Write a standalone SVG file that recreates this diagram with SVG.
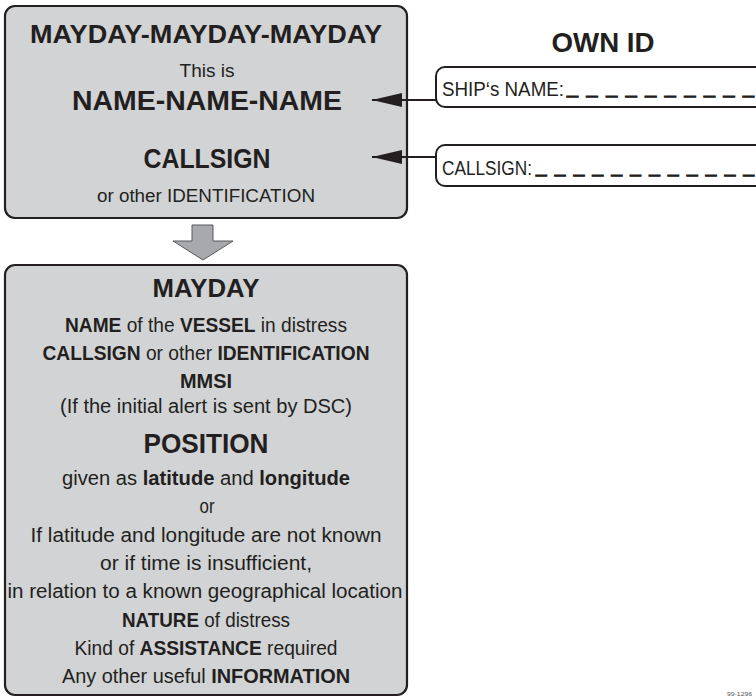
<svg xmlns="http://www.w3.org/2000/svg" width="756" height="697" viewBox="0 0 756 697">
<defs>
<style>
.box{fill:#d1d3d4;stroke:#231f20;stroke-width:2.2}
.idbox{fill:#ffffff;stroke:#231f20;stroke-width:2}
text{font-family:"Liberation Sans",Arial,sans-serif;fill:#231f20}
.c{text-anchor:middle}
.b{font-weight:bold}
.t18{font-size:18.5px}
.t20{font-size:20px}
.t26{font-size:26px;font-weight:bold}
.t28{font-size:28px;font-weight:bold}
.dash{font-size:18px;stroke:#231f20;stroke-width:1.1;word-spacing:3px}
.conn{stroke:#231f20;stroke-width:2;fill:none}
</style>
<marker id="ah" markerUnits="userSpaceOnUse" markerWidth="30" markerHeight="14" refX="30" refY="7" orient="auto">
<path d="M0,0 L30,7 L0,14 z" fill="#231f20"/>
</marker>
</defs>

<g id="call-box">
<rect class="box" x="5" y="6" width="402" height="212" rx="10"/>
<text class="c t26" x="206" y="43" textLength="352" lengthAdjust="spacingAndGlyphs">MAYDAY-MAYDAY-MAYDAY</text>
<text class="c t18" x="207" y="77" textLength="55" lengthAdjust="spacingAndGlyphs">This is</text>
<text class="c t28" x="207" y="110" textLength="270" lengthAdjust="spacingAndGlyphs">NAME-NAME-NAME</text>
<text class="c t28" x="207" y="168" textLength="127" lengthAdjust="spacingAndGlyphs">CALLSIGN</text>
<text class="c t18" x="206" y="202" textLength="218" lengthAdjust="spacingAndGlyphs">or other IDENTIFICATION</text>
</g>

<g id="own-id">
<text class="c t28" x="603" y="52" textLength="103" lengthAdjust="spacingAndGlyphs">OWN ID</text>
</g>

<g id="ship-name">
<rect class="idbox" x="436" y="67" width="340" height="40" rx="9"/>
<text class="t20" x="442" y="96"><tspan textLength="122" lengthAdjust="spacingAndGlyphs">SHIP‘s NAME:</tspan><tspan class="dash" x="567" y="93" textLength="187" lengthAdjust="spacingAndGlyphs">_ _ _ _ _ _ _ _ _ _</tspan></text>
</g>

<g id="callsign-field">
<rect class="idbox" x="436" y="145" width="340" height="41" rx="9"/>
<text class="t20" x="442" y="175"><tspan textLength="90" lengthAdjust="spacingAndGlyphs">CALLSIGN:</tspan><tspan class="dash" x="536" y="172" textLength="218" lengthAdjust="spacingAndGlyphs">_ _ _ _ _ _ _ _ _ _ _ _</tspan></text>
</g>

<g id="message-box">
<rect class="box" x="5" y="265" width="402" height="430" rx="10"/>
<text class="c t26" x="206" y="297" textLength="107" lengthAdjust="spacingAndGlyphs">MAYDAY</text>
<text class="c t20" x="206" y="332" textLength="282" lengthAdjust="spacingAndGlyphs"><tspan class="b">NAME</tspan> of the <tspan class="b">VESSEL</tspan> in distress</text>
<text class="c t20" x="206" y="360" textLength="327" lengthAdjust="spacingAndGlyphs"><tspan class="b">CALLSIGN</tspan> or other <tspan class="b">IDENTIFICATION</tspan></text>
<text class="c t20 b" x="206" y="388" textLength="52" lengthAdjust="spacingAndGlyphs">MMSI</text>
<text class="c t20" x="206" y="413" textLength="292" lengthAdjust="spacingAndGlyphs">(If the initial alert is sent by DSC)</text>
<text class="c t28" x="206" y="453" textLength="125" lengthAdjust="spacingAndGlyphs">POSITION</text>
<text class="c t20" x="206" y="485" textLength="288" lengthAdjust="spacingAndGlyphs">given as <tspan class="b">latitude</tspan> and <tspan class="b">longitude</tspan></text>
<text class="c t20" x="207" y="513" textLength="15" lengthAdjust="spacingAndGlyphs">or</text>
<text class="c t20" x="206" y="542" textLength="351" lengthAdjust="spacingAndGlyphs">If latitude and longitude are not known</text>
<text class="c t20" x="206" y="570" textLength="212" lengthAdjust="spacingAndGlyphs">or if time is insufficient,</text>
<text class="c t20" x="205" y="598" textLength="395" lengthAdjust="spacingAndGlyphs">in relation to a known geographical location</text>
<text class="c t20" x="206" y="627" textLength="168" lengthAdjust="spacingAndGlyphs"><tspan class="b">NATURE</tspan> of distress</text>
<text class="c t20" x="206" y="655" textLength="263" lengthAdjust="spacingAndGlyphs">Kind of <tspan class="b">ASSISTANCE</tspan> required</text>
<text class="c t20" x="206" y="683" textLength="288" lengthAdjust="spacingAndGlyphs">Any other useful <tspan class="b">INFORMATION</tspan></text>
</g>

<g id="connectors">
<polygon points="192,225 213,225 213,241 233,241 203,260 173,241 192,241" fill="#a7a9ac" stroke="#58595b" stroke-width="1"/>
<line class="conn" x1="436" y1="100" x2="372" y2="100" marker-end="url(#ah)"/>
<line class="conn" x1="436" y1="157" x2="372" y2="157" marker-end="url(#ah)"/>
</g>

<text x="727" y="696" style="font-size:6px;fill:#555" textLength="25" lengthAdjust="spacingAndGlyphs">99-1296</text>
</svg>
